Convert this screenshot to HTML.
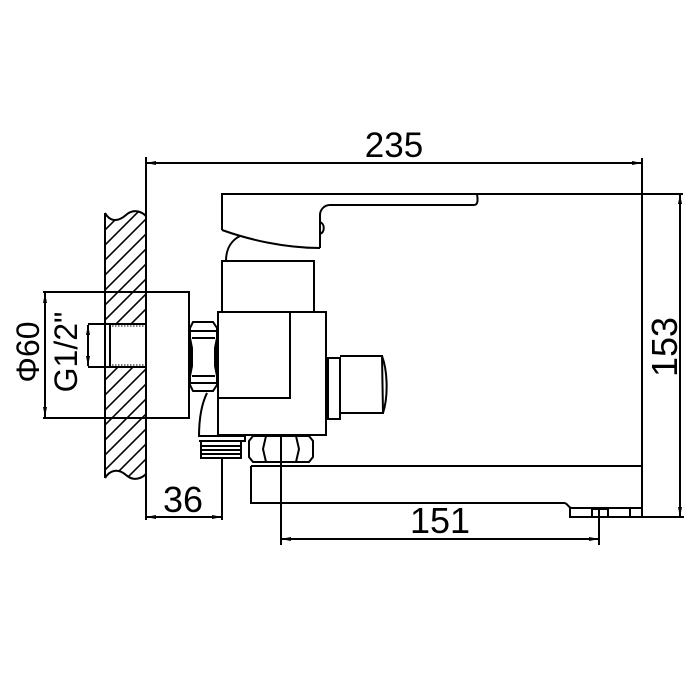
<!DOCTYPE html>
<html><head><meta charset="utf-8"><style>
html,body{margin:0;padding:0;background:#fff;}
svg{display:block}
text{font-family:"Liberation Sans",sans-serif;fill:#000}
</style></head><body>
<svg width="700" height="700" viewBox="0 0 700 700" xmlns="http://www.w3.org/2000/svg">
<defs>
<clipPath id="wall"><path d="M105,213 C110,222 118,222 126,215 C134,208 142,212 146,216 L146,474 C142,478 134,482 126,475 C118,468 110,470 105,478 Z"/></clipPath>
<marker id="a" viewBox="0 0 10 6" refX="10" refY="3" markerWidth="10" markerHeight="6" orient="auto-start-reverse" markerUnits="userSpaceOnUse"><path d="M0,1 L10,3 L0,5Z" fill="#000"/></marker>
</defs>
<g stroke="#000" stroke-width="2" fill="none">
<g clip-path="url(#wall)" stroke-width="1.6">
<path d="M60,260 L160,160 M60,275 L160,175 M60,290 L160,190 M60,305 L160,205 M60,320 L160,220 M60,335 L160,235 M60,350 L160,250 M60,365 L160,265 M60,380 L160,280 M60,395 L160,295 M60,410 L160,310 M60,425 L160,325 M60,440 L160,340 M60,455 L160,355 M60,470 L160,370 M60,485 L160,385 M60,500 L160,400 M60,515 L160,415 M60,530 L160,430 M60,545 L160,445 M60,560 L160,460 M60,575 L160,475 M60,590 L160,490"/>
</g>
<rect x="106" y="325" width="40" height="42" fill="#fff" stroke="none"/>
<path d="M105,213 C110,222 118,222 126,215 C134,208 142,212 146,216"/>
<path d="M105,478 C110,470 118,468 126,475 C134,482 142,478 146,474"/>
<path d="M105,213 L105,478"/>
<path d="M146,157 L146,520"/>
<path d="M146,163 L642,163" marker-start="url(#a)" marker-end="url(#a)"/>
<path d="M642,158 L642,518"/>
<path d="M43,292 L189,292 L189,418 L43,418"/>
<path d="M45,293 L45,417" marker-start="url(#a)" marker-end="url(#a)"/>
<path d="M88,324 L146,324 M88,367 L146,367 M110,324 L110,367"/>
<path d="M88,325 L88,366" marker-start="url(#a)" marker-end="url(#a)"/>
<path d="M112,326 L144,326 M112,365 L144,365" stroke-width="1" stroke-dasharray="1.5 1.5"/>
<path d="M193,322 L213,322 L217,328 L217,385 L213,391 L193,391 L190,385 L190,328 Z"/>
<path d="M190,331 L217,331 M192,338 L215,338 M192,376 L215,376 M190,383 L217,383 M190,338 L192,348 L192,366 L190,376 M217,338 L215,348 L215,366 L217,376"/>
<rect x="218" y="312" width="108" height="123"/>
<rect x="218" y="312" width="72" height="86"/>
<path d="M207,393 C201,405 199,420 199,437"/>
<path d="M222,312 L222,261 L314,261 L314,312"/>
<path d="M226,261 C226,248 232,240 240,236"/>
<path d="M222,230 L222,194 L683,194"/>
<path d="M477,194 C478,200 478,205 474,205 L330,205 C324,205 320,210 320,215 L320,248"/>
<path d="M320,222 C325,224 325,232 320,234"/>
<path d="M222,230 C250,240 285,248 320,248"/>
<rect x="328" y="358" width="12" height="61"/>
<path d="M340,356 L382,356 L383,413 L340,413"/>
<path d="M382,356 C388,372 388,398 383,413"/>
<path d="M199,436 L245,436 L245,441 L199,441"/>
<path d="M201,441 L201,458 L241,458 L241,441 M201,446 L241,446 M201,450 L241,450 M201,454 L241,454"/>
<path d="M253,436 L309,436 L313,441 L313,457 L309,462 L253,462 L249,457 L249,441 Z"/>
<path d="M266,436 L263,449 L266,462 M296,436 L299,449 L296,462"/>
<path d="M251,466 L642,466 M251,466 L251,503 L564,503 C568,503 568,508 572,508 L630,508 L630,517 L570,517 L570,508"/>
<path d="M642,466 L642,508 L630,508"/>
<rect x="592" y="509" width="16" height="8"/>
<path d="M570,517 L684,517"/>
<path d="M680,194 L680,517" marker-start="url(#a)" marker-end="url(#a)"/>
<path d="M222,458 L222,520"/>
<path d="M146,517 L222,517" marker-start="url(#a)" marker-end="url(#a)"/>
<path d="M281,437 L281,545 M599,509 L599,545"/>
<path d="M281,539 L599,539" marker-start="url(#a)" marker-end="url(#a)"/>
</g>
<text x="394" y="157" font-size="35" text-anchor="middle">235</text>
<text x="183" y="512" font-size="36" text-anchor="middle">36</text>
<text x="440" y="533" font-size="36" text-anchor="middle">151</text>
<text transform="translate(680,347) rotate(-90)" x="0" y="-3" font-size="36" text-anchor="middle">153</text>
<text transform="translate(39,352) rotate(-90)" font-size="32" text-anchor="middle">Φ60</text>
<text transform="translate(77,352) rotate(-90)" font-size="32" text-anchor="middle">G1/2"</text>
</svg>
</body></html>
